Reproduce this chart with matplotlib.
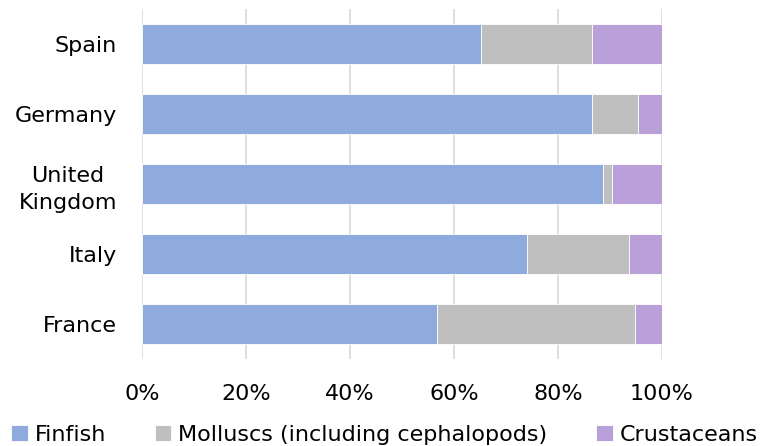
import matplotlib
matplotlib.use("Agg")
import matplotlib.pyplot as plt
import numpy as np

countries = ["France", "Italy", "United\nKingdom", "Germany", "Spain"]
finfish = [56.8, 74.1, 88.7, 86.6, 65.2]
molluscs = [38.0, 19.6, 1.7, 8.7, 21.3]
crustaceans = [5.2, 6.3, 9.6, 4.7, 13.5]

series = ["Finfish", "Molluscs (including cephalopods)", "Crustaceans"]
colors = ["#8FAADC", "#BFBFBF", "#B9A0D9"]

plt.rcParams["font.family"] = ["DejaVu Sans"]

fig = plt.figure(figsize=(7.6, 4.46), dpi=100)
ax = fig.add_axes([142 / 760, 1 - 359 / 446, 520 / 760, 350 / 446])

y = np.arange(len(countries))
left = np.zeros(len(countries))
for vals, name, c in zip([finfish, molluscs, crustaceans], series, colors):
    ax.barh(y, vals, left=left, height=0.57, color=c, edgecolor="white",
            linewidth=0.6, label=name, zorder=3)
    left = left + np.array(vals)

ax.set_xlim(0, 100)
ax.set_ylim(-0.5, len(countries) - 0.5)
ax.set_xticks(np.arange(0, 101, 20))
ax.set_xticklabels([f"{v}%" for v in range(0, 101, 20)], fontsize=16)
ax.set_yticks(y)
ax.set_yticklabels(countries, fontsize=16, linespacing=1.45)
for t in ax.get_yticklabels():
    t.set_multialignment("center")
ax.tick_params(axis="y", length=0, pad=18)
ax.tick_params(axis="x", length=0, pad=18)
ax.grid(axis="x", color="#D9D9D9", linewidth=1.2, zorder=0)
for s in ax.spines.values():
    s.set_visible(False)

fig.legend(loc="lower left", bbox_to_anchor=(10 / 760, 0.0), ncol=3,
           frameon=False, fontsize=16, handlelength=0.75, handleheight=0.75,
           handletextpad=0.3, columnspacing=2.2, borderaxespad=0,
           borderpad=0.05)

fig.savefig("out.png", dpi=100)
